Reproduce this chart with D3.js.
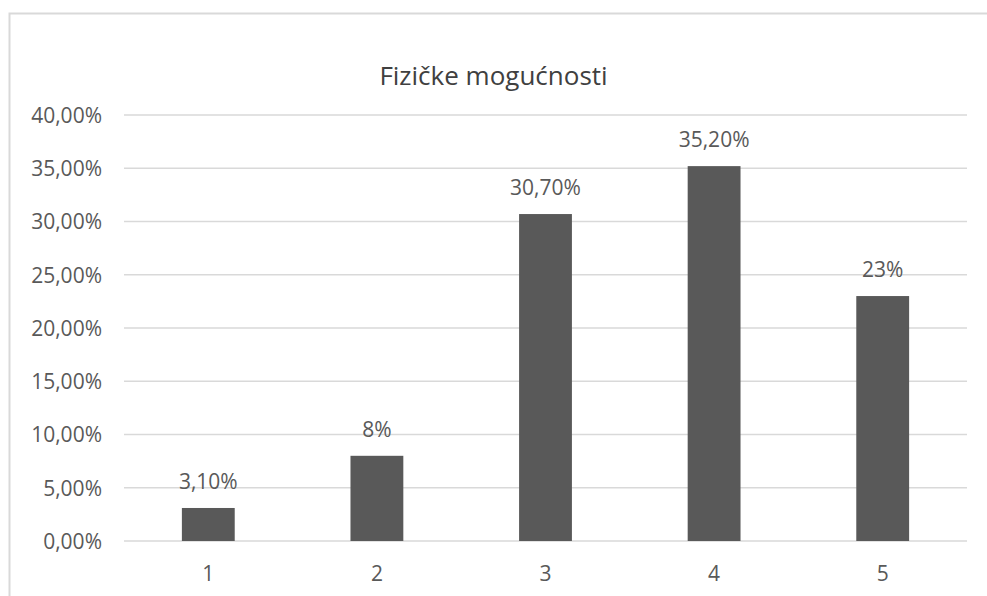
<!DOCTYPE html>
<html><head><meta charset="utf-8">
<script src="https://cdn.jsdelivr.net/npm/d3@7"></script>
<style>body{margin:0;background:#fff;} svg{display:block;} text{font-family:"Open Sans",sans-serif;}</style>
</head><body>
<svg id="chart" width="987" height="596"></svg>
<script>
const title = "Fizičke mogućnosti";
const categories = ["1","2","3","4","5"];
const values = [3.1, 8, 30.7, 35.2, 23];
const valueLabels = ["3,10%","8%","30,70%","35,20%","23%"];
const yTicks = [0,5,10,15,20,25,30,35,40];
const yTickLabels = ["0,00%","5,00%","10,00%","15,00%","20,00%","25,00%","30,00%","35,00%","40,00%"];

const svg = d3.select("#chart");
// chart border
svg.append("rect").attr("x",9.5).attr("y",13.5).attr("width",1000).attr("height",700)
  .attr("fill","#fff").attr("stroke","#d9d9d9").attr("stroke-width",2);

const pLeft=124, pRight=967, pTop=115, pBottom=541;
const x = d3.scaleBand().domain(categories).range([pLeft,pRight]).paddingInner(0.6866).paddingOuter(0.3433);
const y = d3.scaleLinear().domain([0,40]).range([pBottom,pTop]);

// gridlines
svg.append("g").selectAll("line").data(yTicks).join("line")
  .attr("x1",pLeft).attr("x2",pRight).attr("y1",d=>y(d)).attr("y2",d=>y(d))
  .attr("stroke","#d9d9d9").attr("stroke-width",1.3);

// y axis labels
const yAxis = d3.axisLeft(y).tickValues(yTicks).tickSize(0).tickPadding(0)
  .tickFormat((d,i)=>yTickLabels[i]);
const gy = svg.append("g").attr("transform",`translate(${pLeft-22},0)`).call(yAxis);
gy.select(".domain").remove();
gy.selectAll("text").attr("fill","#595959").style("font-size","21px").attr("dy","0.35em");

// x axis labels
const xAxis = d3.axisBottom(x).tickSize(0).tickPadding(0);
const gx = svg.append("g").attr("transform",`translate(0,${pBottom+25})`).call(xAxis);
gx.select(".domain").remove();
gx.selectAll("text").attr("fill","#595959").style("font-size","21px").attr("dy","0.71em");

// bars
svg.append("g").selectAll("rect").data(values).join("rect")
  .attr("x",(d,i)=>x(categories[i])).attr("width",x.bandwidth())
  .attr("y",d=>y(d)).attr("height",d=>y(0)-y(d))
  .attr("fill","#595959");

// value labels
svg.append("g").selectAll("text").data(values).join("text")
  .attr("x",(d,i)=>x(categories[i])+x.bandwidth()/2)
  .attr("y",d=>y(d)-19)
  .attr("text-anchor","middle").attr("fill","#595959").style("font-size","21px")
  .text((d,i)=>valueLabels[i]);

// title
svg.append("text").attr("x",(pLeft+pRight)/2-52).attr("y",85).attr("text-anchor","middle")
  .attr("fill","#404040").style("font-size","26px").text(title);
</script>
</body></html>
